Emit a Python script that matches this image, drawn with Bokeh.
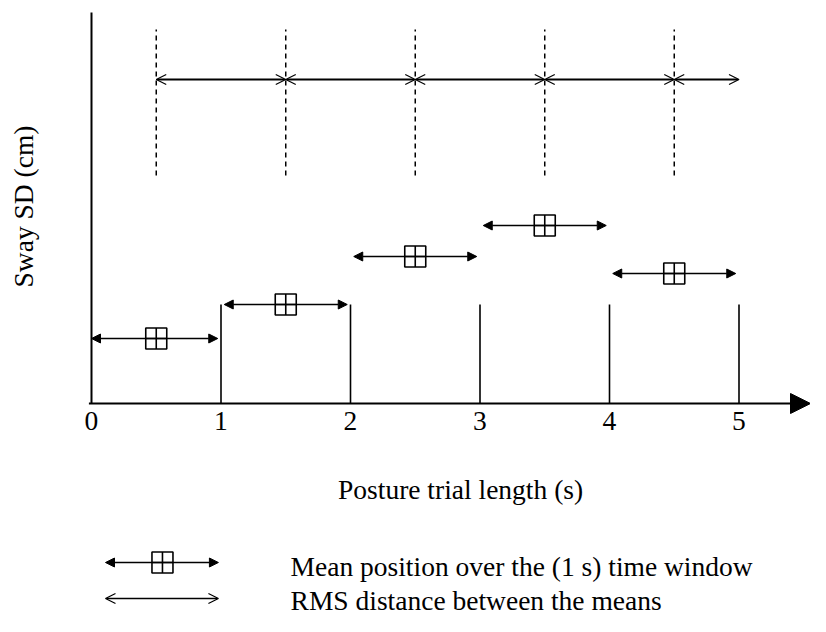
from bokeh.plotting import figure
from bokeh.models import Range1d, ColumnDataSource, Arrow, NormalHead, OpenHead
from bokeh.core.properties import value
from bokeh.embed import file_html
from bokeh.resources import INLINE

# ---- data ----
window_starts = [0, 1, 2, 3, 4]
window_ends = [1, 2, 3, 4, 5]
window_centers = [0.5, 1.5, 2.5, 3.5, 4.5]
mean_sd = [0.65, 0.99, 1.47, 1.78, 1.30]
boundary_x = [1, 2, 3, 4, 5]
rms_points = [0.5, 1.5, 2.5, 3.5, 4.5, 5.0]
tick_values = [0, 1, 2, 3, 4, 5]
tick_labels = ["0", "1", "2", "3", "4", "5"]
x_label = "Posture trial length (s)"
y_label = "Sway SD (cm)"
legend_labels = ["Mean position over the (1 s) time window", "RMS distance between the means"]

# ---- layout constants ----
FONT = value("Liberation Serif")
FS = "27.5px"
X0 = -0.7027
X1 = X0 + 810 / 129.5
Y1 = 4.03
Y0 = Y1 - 6.16
y_axis_top = 3.91
dash_lo, dash_hi = 2.28, 3.74
rms_y = 3.24
inset = 0.025

p = figure(width=810, height=616, x_range=Range1d(X0, X1), y_range=Range1d(Y0, Y1),
           output_backend="svg", toolbar_location=None, min_border=0,
           min_border_left=0, min_border_right=0, min_border_top=0, min_border_bottom=0)
p.axis.visible = False
p.grid.visible = False
p.outline_line_color = None
p.background_fill_color = "white"

# axes
p.segment(x0=[0], y0=[0], x1=[0], y1=[y_axis_top], line_color="black", line_width=2)
p.add_layout(Arrow(end=NormalHead(size=20, fill_color="black", line_color="black"),
                   x_start=-0.02, y_start=0, x_end=X1, y_end=0,
                   line_color="black", line_width=2))

# tick labels
p.text(x=tick_values, y=[-0.17] * len(tick_values), text=tick_labels, text_font=FONT,
       text_font_size=FS, text_align="center", text_baseline="middle", text_color="black")

# axis labels
p.text(x=[2.85], y=[-0.86], text=[x_label], text_font=FONT, text_font_size=FS,
       text_align="center", text_baseline="middle", text_color="black")
p.text(x=[-0.525], y=[1.97], text=[y_label], text_font=FONT, text_font_size=FS,
       text_align="center", text_baseline="middle", angle=1.5708, text_color="black")

# window boundary lines
p.segment(x0=boundary_x, y0=[0] * 5, x1=boundary_x, y1=[mean_sd[1]] * 5,
          line_color="black", line_width=1.6)

# mean lines with filled arrowheads
mean_src = ColumnDataSource(dict(
    x0=[s + (0 if s == 0 else inset) for s in window_starts],
    x1=[e - inset for e in window_ends],
    y=mean_sd))
p.add_layout(Arrow(start=NormalHead(size=9, fill_color="black", line_color="black"),
                   end=NormalHead(size=9, fill_color="black", line_color="black"),
                   x_start="x0", y_start="y", x_end="x1", y_end="y", source=mean_src,
                   line_color="black", line_width=1.6))
p.scatter(x=window_centers, y=mean_sd, marker="square_cross", size=21,
          fill_color="white", line_color="black", line_width=1.6)

# dashed lines at window centres
p.segment(x0=window_centers, y0=[dash_lo] * 5, x1=window_centers, y1=[dash_hi] * 5,
          line_color="black", line_width=1.5, line_dash="5 4")

# RMS double arrows
rms_src = ColumnDataSource(dict(x0=rms_points[:-1], x1=rms_points[1:], y=[rms_y] * 5))
p.add_layout(Arrow(start=OpenHead(size=10, line_color="black", line_width=1.2),
                   end=OpenHead(size=10, line_color="black", line_width=1.2),
                   x_start="x0", y_start="y", x_end="x1", y_end="y", source=rms_src,
                   line_color="black", line_width=1.8))

# legend (drawn)
leg_x0, leg_x1, leg_xc = 0.108, 0.98, 0.548
leg_y = [-1.59, -1.95]
leg_text_x = 1.537
p.add_layout(Arrow(start=NormalHead(size=9, fill_color="black", line_color="black"),
                   end=NormalHead(size=9, fill_color="black", line_color="black"),
                   x_start=leg_x0, y_start=leg_y[0], x_end=leg_x1, y_end=leg_y[0],
                   line_color="black", line_width=1.6))
p.scatter(x=[leg_xc], y=[leg_y[0]], marker="square_cross", size=21,
          fill_color="white", line_color="black", line_width=1.6)
p.add_layout(Arrow(start=OpenHead(size=10, line_color="black", line_width=1.2),
                   end=OpenHead(size=10, line_color="black", line_width=1.2),
                   x_start=leg_x0, y_start=leg_y[1], x_end=leg_x1, y_end=leg_y[1],
                   line_color="black", line_width=1.6))
p.text(x=[leg_text_x] * 2, y=[leg_y[0] - 0.04, leg_y[1] - 0.02], text=legend_labels,
       text_font=FONT, text_font_size=FS, text_align="left", text_baseline="middle",
       text_color="black")

open("out.html", "w").write(file_html(p, INLINE))
